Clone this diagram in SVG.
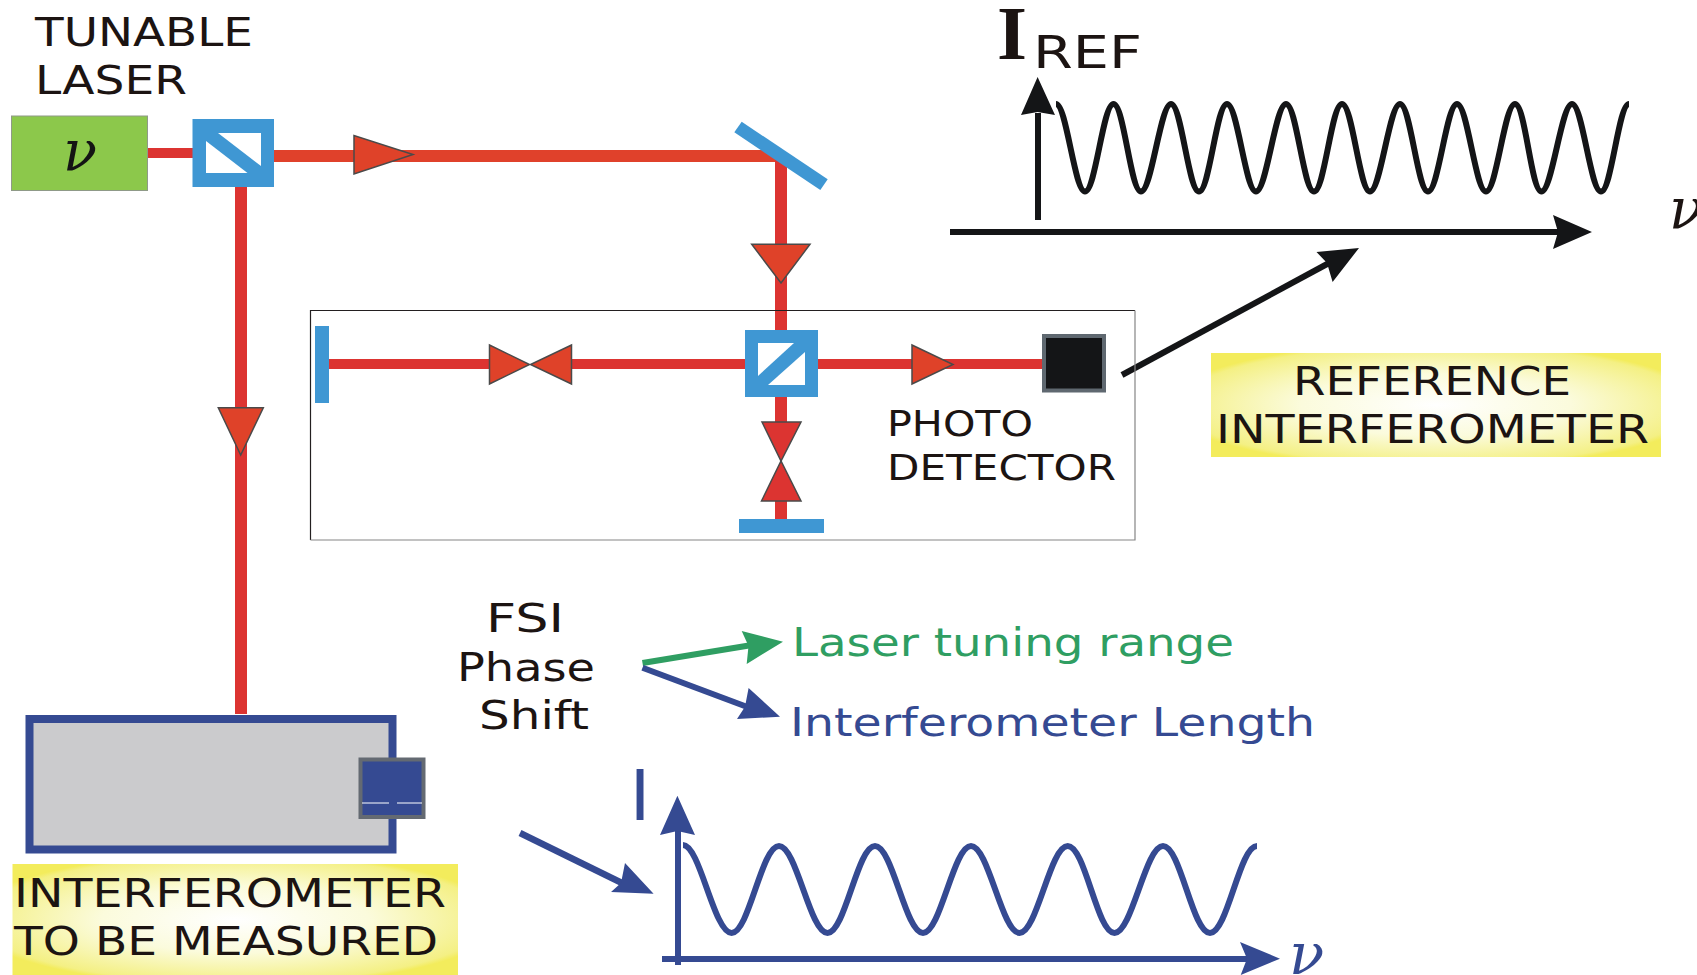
<svg xmlns="http://www.w3.org/2000/svg" width="1697" height="975" viewBox="0 0 1697 975">
<style>
.t{font-family:"DejaVu Sans",Verdana,sans-serif;font-size:39px;fill:#1c1412}
.nu{font-family:"DejaVu Serif","Liberation Serif",serif;font-style:italic}
.beam{fill:#dc3431}
.beam2{fill:#e0412b}
.tri{fill:#df4229;stroke:#4a4a4a;stroke-width:1.5}
.tri2{fill:#dc3431;stroke:#4a4a4a;stroke-width:1.5}
.optic{fill:#3f97d3}
.w{fill:#fff}
.wave{fill:none;stroke-linejoin:round}
.yellow{fill:url(#yg)}
.k{fill:#141517}
.b{fill:#354a92}
</style>
<defs>
<radialGradient id="yg" cx="0.5" cy="0.5" r="0.6">
<stop offset="0" stop-color="#ffffff"/>
<stop offset="0.5" stop-color="#fbfbdc"/>
<stop offset="0.95" stop-color="#f4f084"/>
<stop offset="1" stop-color="#f3ec5c"/>
</radialGradient>
</defs>
<rect width="1697" height="975" fill="#fff"/>

<g id="connectors">
<rect class="beam" x="148" y="148" width="45" height="10"/>
<rect class="beam2" x="272" y="150" width="510" height="12"/>
<rect class="beam" x="235" y="187" width="12" height="527"/>
<rect class="beam" x="775" y="158" width="12" height="172"/>
<rect class="beam" x="329" y="359" width="160" height="10"/>
<rect class="beam" x="571" y="359" width="174" height="10"/>
<rect class="beam" x="818" y="359" width="226" height="10"/>
<rect class="beam" x="775" y="397" width="12" height="25"/>
<rect class="beam" x="775" y="501" width="12" height="18"/>
<polygon class="tri" points="354,135.5 354,174 413,154.5"/>
<polygon class="tri" points="751.7,244.3 810,244.3 781,283"/>
<polygon class="tri" points="218.3,407.7 263.3,407.7 240.7,455"/>
<polygon class="tri" points="489.5,345 489.5,384 529.5,364.5"/>
<polygon class="tri" points="571.5,345 571.5,384 530.5,364.5"/>
<polygon class="tri" points="912,345 912,384 953,364.5"/>
<polygon class="tri2" points="762,422 801,422 781,461"/>
<polygon class="tri2" points="761.5,501 801,501 781,461"/>
<g id="ref-pointer">
<line x1="1122" y1="375" x2="1329" y2="263" stroke="#141517" stroke-width="6"/>
<polygon class="k" points="1359,248 1316.5,252 1327,263 1332.6,282"/>
</g>
<g id="meas-pointer">
<line x1="520" y1="833" x2="624" y2="884" stroke="#354a92" stroke-width="6.5"/>
<polygon class="b" points="653.6,893.7 625,863 621,883 611,892"/>
</g>
<g id="green-arrow">
<line x1="642.5" y1="663" x2="752" y2="645" stroke="#2f9e62" stroke-width="6"/>
<polygon fill="#2f9e62" points="783,641.7 741.7,631 748.5,646 746.7,664"/>
</g>
<g id="blue-arrow">
<line x1="642.5" y1="667.7" x2="750" y2="708" stroke="#354a92" stroke-width="6"/>
<polygon class="b" points="780,716.7 748.6,688 745,706.7 737,719"/>
</g>
</g>

<g id="tunable-laser">
<rect x="11.5" y="116" width="136" height="74.5" fill="#8cc84b" stroke="#8f9a88" stroke-width="1"/>
<text class="nu" x="80" y="170" font-size="56" text-anchor="middle" fill="#141414">ν</text>
<text class="t" x="35" y="46" textLength="218" lengthAdjust="spacingAndGlyphs">TUNABLE</text>
<text class="t" x="35" y="94" textLength="152" lengthAdjust="spacingAndGlyphs">LASER</text>
</g>

<g id="splitter-1">
<rect class="optic" x="192.5" y="119" width="81.5" height="68"/>
<polygon class="w" points="218,133 261,133 261,166"/>
<polygon class="w" points="206,141 247.5,173 206,173"/>
</g>

<g id="mirror-top">
<polygon class="optic" points="741.7,121.7 734.3,132.3 820.3,190 827.7,179.3"/>
</g>

<g id="reference-box">
<path d="M310.5,540 V310.500 H1135" fill="none" stroke="#231f20" stroke-width="1.2"/>
<path d="M310.5,540 H1135 V310.500" fill="none" stroke="#858585" stroke-width="1.2"/>
</g>
<g id="mirror-left"><rect class="optic" x="315" y="326" width="14" height="77"/></g>
<g id="mirror-bottom"><rect class="optic" x="739" y="519" width="85" height="14"/></g>

<g id="splitter-2">
<rect class="optic" x="745" y="330" width="73" height="67"/>
<polygon class="w" points="758,343 794,343 758,376"/>
<polygon class="w" points="805,352 805,385 768,385"/>
</g>

<g id="photo-detector">
<rect x="1044" y="336" width="60" height="54.5" fill="#141517" stroke="#5f6870" stroke-width="4"/>
<text class="t" x="887" y="436" textLength="146" lengthAdjust="spacingAndGlyphs" style="font-size:35px">PHOTO</text>
<text class="t" x="887" y="480" textLength="229" lengthAdjust="spacingAndGlyphs" style="font-size:35px">DETECTOR</text>
</g>

<g id="ref-plot">
<text x="997" y="59" font-family="Liberation Serif,serif" font-size="77" font-weight="bold" fill="#1c1412">I</text>
<text class="t" x="1033" y="68" textLength="109" lengthAdjust="spacingAndGlyphs" style="font-size:45px">REF</text>
<rect class="k" x="1035" y="113" width="6" height="107"/>
<polygon class="k" points="1037.6,77 1021,115 1037.6,112 1055,115"/>
<rect class="k" x="950" y="229" width="612" height="6"/>
<polygon class="k" points="1592,232 1553,215 1558,232 1553,249"/>
<path class="wave" stroke="#141517" stroke-width="6" d="M1056,104 C1066.5,104 1074.5,191.5 1085,191.5 C1095.5,191.5 1103,104 1113.5,104 C1124,104 1130.5,191.5 1141,191.5 C1151.5,191.5 1160.5,104 1171,104 C1181.5,104 1188.5,191.5 1199,191.5 C1209.5,191.5 1216.5,104 1227,104 C1237.5,104 1245.5,191.5 1256,191.5 C1266.5,191.5 1275.5,104 1286,104 C1296.5,104 1303.5,191.5 1314,191.5 C1324.5,191.5 1331.5,104 1342,104 C1352.5,104 1359.5,191.5 1370,191.5 C1380.5,191.5 1389.5,104 1400,104 C1410.5,104 1417.5,191.5 1428,191.5 C1438.5,191.5 1446.5,104 1457,104 C1467.5,104 1475.5,191.5 1486,191.5 C1496.5,191.5 1504.5,104 1515,104 C1525.5,104 1531,191.5 1541.5,191.5 C1552,191.5 1561.5,104 1572,104 C1582.5,104 1590.5,191.5 1601,191.5 C1611.5,191.5 1618.5,104 1629,104"/>
<text class="nu" x="1669" y="228" font-size="56" fill="#1c1412">ν</text>
</g>

<g id="reference-label">
<rect class="yellow" x="1211" y="353" width="450" height="104"/>
<text class="t" x="1293" y="395" textLength="278" lengthAdjust="spacingAndGlyphs">REFERENCE</text>
<text class="t" x="1216" y="443" textLength="433" lengthAdjust="spacingAndGlyphs">INTERFEROMETER</text>
</g>

<g id="fsi-label">
<text class="t" x="486" y="632" textLength="78" lengthAdjust="spacingAndGlyphs">FSI</text>
<text class="t" x="457" y="680.5" textLength="138" lengthAdjust="spacingAndGlyphs">Phase</text>
<text class="t" x="479" y="728.5" textLength="110" lengthAdjust="spacingAndGlyphs">Shift</text>
</g>
<g id="laser-range"><text class="t" x="792" y="656" textLength="442" lengthAdjust="spacingAndGlyphs" style="fill:#2f9e62">Laser tuning range</text></g>
<g id="interferometer-length"><text class="t" x="790" y="736" textLength="525" lengthAdjust="spacingAndGlyphs" style="fill:#354a92">Interferometer Length</text></g>

<g id="measured-interferometer">
<rect x="29.5" y="719" width="363" height="130.5" fill="#cbcbcd" stroke="#354a92" stroke-width="8"/>
<rect x="360.5" y="759.5" width="63" height="57.5" fill="#354a92" stroke="#646a72" stroke-width="4"/>
<path d="M362,803 H389 M397,803 H422" stroke="#fff" stroke-width="1"/>
</g>
<g id="measured-label">
<rect class="yellow" x="12.5" y="864" width="445.5" height="111"/>
<text class="t" x="14" y="907" textLength="432" lengthAdjust="spacingAndGlyphs">INTERFEROMETER</text>
<text class="t" x="14" y="955" textLength="424" lengthAdjust="spacingAndGlyphs">TO BE MEASURED</text>
</g>

<g id="measured-plot">
<text x="640" y="820" font-family="Liberation Sans,sans-serif" font-size="74" text-anchor="middle" fill="#354a92">I</text>
<rect class="b" x="675" y="830" width="6" height="135"/>
<polygon class="b" points="677.4,795.7 660,835 677.4,831 695,835"/>
<rect class="b" x="662" y="956" width="585" height="6"/>
<polygon class="b" points="1280,958.7 1240,942 1247,958.7 1240.7,975"/>
<path class="wave" stroke="#354a92" stroke-width="6" d="M683,845 C700,845 714,933 731.6,933 C749,933 761.5,846 779,846 C796.5,846 810,933 827.5,933 C845,933 857.5,846 875,846 C892.5,846 905.5,933 923,933 C940.5,933 953.5,846 971,846 C988.5,846 1002,933 1019.5,933 C1037,933 1050.2,846 1067.7,846 C1085.2,846 1097,933 1114.5,933 C1132,933 1145.5,846 1163,846 C1180.5,846 1192.5,933 1210,933 C1227.5,933 1239.5,846 1257,846"/>
<text class="nu" x="1289" y="974" font-size="58" fill="#354a92">ν</text>
</g>
</svg>
